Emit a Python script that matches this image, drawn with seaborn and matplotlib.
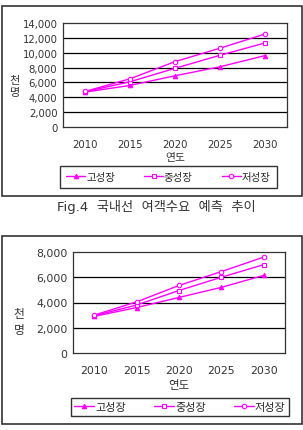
import numpy as np
import pandas as pd
import seaborn as sns
import matplotlib.pyplot as plt
from matplotlib.patches import Rectangle

sns.set_style("white")
plt.rcParams['font.family'] = ['DejaVu Sans', 'Noto Sans CJK KR']

# Data
years = ['2010', '2015', '2020', '2025', '2030']
series = ['고성장', '중성장', '저성장']

dom_high = [4700, 5600, 6900, 8100, 9600]
dom_mid = [4750, 6100, 7900, 9650, 11300]
dom_low = [4800, 6500, 8800, 10600, 12500]

intl_high = [2900, 3600, 4400, 5200, 6150]
intl_mid = [2950, 3800, 4950, 6000, 7000]
intl_low = [3000, 4050, 5350, 6450, 7600]

top_ticks = [0, 2000, 4000, 6000, 8000, 10000, 12000, 14000]
bot_ticks = [0, 2000, 4000, 6000, 8000]

markers = ['^', 's', 'o']
faces = ['#ff00ff', 'white', 'white']
pink = '#ff00ff'
txt = '#333333'

W, H = 303, 431
fig = plt.figure(figsize=(W / 100, H / 100), dpi=100)


def frac(x0, y0, x1, y1):
    return [x0 / W, 1 - y1 / H, (x1 - x0) / W, (y1 - y0) / H]


def draw(ax, vals, yticks, fs):
    x = np.arange(len(years))
    for name, v, m, fc in zip(series, vals, markers, faces):
        sns.lineplot(x=x, y=v, ax=ax, color=pink, linewidth=1.0, marker=m,
                     markersize=3.2, markerfacecolor=fc, markeredgecolor=pink,
                     markeredgewidth=0.8, label=name, legend=False)
    ax.set_xlim(-0.5, len(years) - 0.5)
    ax.set_ylim(yticks[0], yticks[-1])
    ax.set_yticks(yticks)
    ax.set_yticklabels([f'{t:,}' for t in yticks], fontsize=fs, color=txt)
    ax.set_xticks(x)
    ax.set_xticklabels(years, fontsize=fs, color=txt)
    ax.set_xticks(np.arange(0.5, len(years) - 0.5), minor=True)
    ax.tick_params(axis='x', which='major', length=0, pad=9)
    ax.tick_params(axis='x', which='minor', length=3, direction='in', color='black')
    ax.tick_params(axis='y', length=0, pad=4)
    for t in yticks[1:-1]:
        ax.axhline(t, color='black', linewidth=0.9, zorder=0)
    for s in ax.spines.values():
        s.set_color('#333333')
        s.set_linewidth(0.9)
    ax.set_xlabel('연도', fontsize=fs + 0.5, color=txt, labelpad=2)


# Top chart (국내선)
fig.patches.append(Rectangle((2 / W, 1 - 197 / H), 300 / W, 190 / H,
                             transform=fig.transFigure, fill=False,
                             edgecolor='#333333', linewidth=1.2))
ax1 = fig.add_axes(frac(63, 24, 287, 128))
draw(ax1, [dom_high, dom_mid, dom_low], top_ticks, 7.3)
fig.text(15 / W, 1 - 87 / H, '천\n명', ha='center', va='center',
         fontsize=8, color=txt, linespacing=1.3)
h, l = ax1.get_legend_handles_labels()
leg1 = fig.legend(h, l, loc='center', bbox_to_anchor=(168.5 / W, 1 - 178 / H),
                  ncol=3, fontsize=7.5, frameon=True, fancybox=False,
                  edgecolor='black', handlelength=1.8, columnspacing=2.8,
                  handletextpad=0.1, borderpad=0.6, borderaxespad=0)
leg1.get_frame().set_linewidth(1.0)

fig.text(156 / W, 1 - 207 / H, 'Fig.4  국내선  여객수요  예측  추이',
         ha='center', va='center', fontsize=9.5, color=txt)

# Bottom chart (국제선)
fig.patches.append(Rectangle((2 / W, 1 - 425 / H), 300 / W, 188 / H,
                             transform=fig.transFigure, fill=False,
                             edgecolor='#333333', linewidth=1.2))
ax2 = fig.add_axes(frac(73, 253, 285, 354))
draw(ax2, [intl_high, intl_mid, intl_low], bot_ticks, 7.8)
fig.text(19 / W, 1 - 323 / H, '천\n명', ha='center', va='center',
         fontsize=8.5, color=txt, linespacing=1.3)
h, l = ax2.get_legend_handles_labels()
leg2 = fig.legend(h, l, loc='center', bbox_to_anchor=(180 / W, 1 - 408 / H),
                  ncol=3, fontsize=8, frameon=True, fancybox=False,
                  edgecolor='black', handlelength=1.8, columnspacing=2.5,
                  handletextpad=0.1, borderpad=0.35, borderaxespad=0)
leg2.get_frame().set_linewidth(1.0)

fig.savefig('out.png', dpi=100)
